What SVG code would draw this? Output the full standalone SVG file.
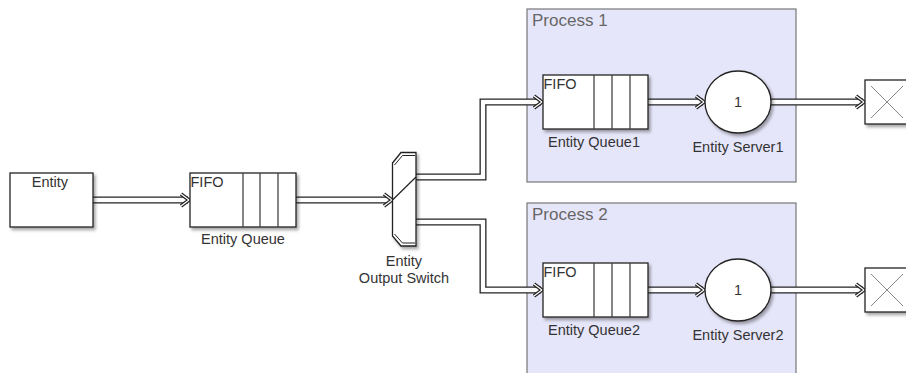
<svg xmlns="http://www.w3.org/2000/svg" width="906" height="373" viewBox="0 0 906 373">
<style>
.blk{fill:#fff;stroke:#222;stroke-width:1.3}
.sub{fill:#e6e6fa;stroke:#777;stroke-width:1.2}
.lbl{font-family:"Liberation Sans",Arial,sans-serif;font-size:14.5px;fill:#333}
.ttl{font-family:"Liberation Sans",Arial,sans-serif;font-size:17px;fill:#666}
.div{stroke:#444;stroke-width:1.3}
.outer{fill:none;stroke:#222;stroke-width:7}
.inner{fill:none;stroke:#fff;stroke-width:4.4}
.ah{fill:none;stroke:#222;stroke-width:3.6;stroke-linejoin:miter}
.ahi{fill:none;stroke:#fff;stroke-width:1.2}
.xl{stroke:#888;stroke-width:1}
</style>
<defs>
<filter id="sh" x="-20%" y="-20%" width="150%" height="150%">
<feDropShadow dx="2" dy="2.5" stdDeviation="1.6" flood-color="#000" flood-opacity="0.35"/>
</filter>
</defs>
<rect width="906" height="373" fill="#fff"/>
<g id="process1">
<rect class="sub" x="527" y="9" width="269" height="173"/>
<text class="ttl" x="532" y="26">Process 1</text>
</g>
<g id="process2">
<rect class="sub" x="527" y="203" width="269" height="180"/>
<text class="ttl" x="532" y="220">Process 2</text>
</g>
<g id="connectors">
<path class="outer" d="M93,200 H188"/>
<path class="inner" d="M93,200 H188"/>
<path class="outer" d="M296,200 H390"/>
<path class="inner" d="M296,200 H390"/>
<path class="outer" d="M416,177 H483 V102 H541"/>
<path class="inner" d="M416,177 H483 V102 H541"/>
<path class="outer" d="M416,222 H483 V290 H541"/>
<path class="inner" d="M416,222 H483 V290 H541"/>
<path class="outer" d="M648,102 H703"/>
<path class="inner" d="M648,102 H703"/>
<path class="outer" d="M648,290 H703"/>
<path class="inner" d="M648,290 H703"/>
<path class="outer" d="M771,102 H863"/>
<path class="inner" d="M771,102 H863"/>
<path class="outer" d="M771,290 H863"/>
<path class="inner" d="M771,290 H863"/>
<g>
<path class="ah" d="M181,194 L189,200 L181,206"/><path class="ahi" d="M181,194 L189,200 L181,206"/>
<path class="ah" d="M384,194 L392,200 L384,206"/><path class="ahi" d="M384,194 L392,200 L384,206"/>
<path class="ah" d="M534,96 L542,102 L534,108"/><path class="ahi" d="M534,96 L542,102 L534,108"/>
<path class="ah" d="M534,284 L542,290 L534,296"/><path class="ahi" d="M534,284 L542,290 L534,296"/>
<path class="ah" d="M696,96 L704,102 L696,108"/><path class="ahi" d="M696,96 L704,102 L696,108"/>
<path class="ah" d="M696,284 L704,290 L696,296"/><path class="ahi" d="M696,284 L704,290 L696,296"/>
<path class="ah" d="M856,96 L864,102 L856,108"/><path class="ahi" d="M856,96 L864,102 L856,108"/>
<path class="ah" d="M856,284 L864,290 L856,296"/><path class="ahi" d="M856,284 L864,290 L856,296"/>
</g>
</g>
<g id="entity">
<rect class="blk" x="10" y="173" width="83" height="54" filter="url(#sh)"/>
<text class="lbl" x="50" y="187" text-anchor="middle">Entity</text>
</g>
<g id="entity-queue">
<rect class="blk" x="190" y="173" width="106" height="54" filter="url(#sh)"/>
<line class="div" x1="243" y1="173" x2="243" y2="227"/>
<line class="div" x1="260" y1="173" x2="260" y2="227"/>
<line class="div" x1="278" y1="173" x2="278" y2="227"/>
<text class="lbl" x="190.5" y="187">FIFO</text>
<text class="lbl" x="243" y="244" text-anchor="middle">Entity Queue</text>
</g>
<g id="output-switch">
<path class="blk" d="M392.5,163 L401,152.5 H416 V246 H401 L392.5,236 Z" filter="url(#sh)"/>
<path fill="none" stroke="#222" stroke-width="1" d="M394.5,165 L402.5,155.5 H415"/>
<path fill="none" stroke="#222" stroke-width="1" d="M394.5,234 L402.5,243 H415"/>
<line x1="392.5" y1="200" x2="416" y2="177" stroke="#222" stroke-width="1.2"/>
<text class="lbl" x="404" y="266" text-anchor="middle">Entity</text>
<text class="lbl" x="404" y="283" text-anchor="middle">Output Switch</text>
</g>
<g id="entity-queue1">
<rect class="blk" x="543" y="75" width="105" height="54" filter="url(#sh)"/>
<line class="div" x1="594" y1="75" x2="594" y2="129"/>
<line class="div" x1="612" y1="75" x2="612" y2="129"/>
<line class="div" x1="630" y1="75" x2="630" y2="129"/>
<text class="lbl" x="543.5" y="89">FIFO</text>
<text class="lbl" x="594" y="147" text-anchor="middle">Entity Queue1</text>
</g>
<g id="entity-server1">
<ellipse class="blk" cx="738" cy="102" rx="33" ry="31" filter="url(#sh)"/>
<text class="lbl" x="738" y="107" text-anchor="middle" font-size="13" fill="#222">1</text>
<text class="lbl" x="738" y="152" text-anchor="middle">Entity Server1</text>
</g>
<g id="entity-queue2">
<rect class="blk" x="543" y="263" width="105" height="54" filter="url(#sh)"/>
<line class="div" x1="594" y1="263" x2="594" y2="317"/>
<line class="div" x1="612" y1="263" x2="612" y2="317"/>
<line class="div" x1="630" y1="263" x2="630" y2="317"/>
<text class="lbl" x="543.5" y="277">FIFO</text>
<text class="lbl" x="594" y="335" text-anchor="middle">Entity Queue2</text>
</g>
<g id="entity-server2">
<ellipse class="blk" cx="738" cy="290" rx="33" ry="31" filter="url(#sh)"/>
<text class="lbl" x="738" y="295" text-anchor="middle" font-size="13" fill="#222">1</text>
<text class="lbl" x="738" y="340" text-anchor="middle">Entity Server2</text>
</g>
<g id="terminator1">
<rect class="blk" x="865" y="80" width="44" height="44" filter="url(#sh)"/>
<line class="xl" x1="871" y1="86" x2="903" y2="118"/>
<line class="xl" x1="903" y1="86" x2="871" y2="118"/>
</g>
<g id="terminator2">
<rect class="blk" x="865" y="268" width="44" height="44" filter="url(#sh)"/>
<line class="xl" x1="871" y1="274" x2="903" y2="306"/>
<line class="xl" x1="903" y1="274" x2="871" y2="306"/>
</g>
</svg>
